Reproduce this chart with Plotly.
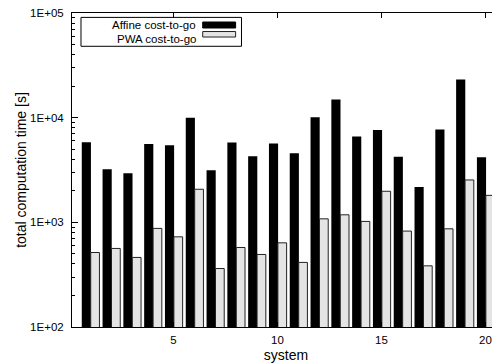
import plotly.graph_objects as go

systems = list(range(1, 21))
affine_cost = [5820, 3210, 2940, 5610, 5450, 9960, 3140, 5780, 4280, 5650,
               4570, 10100, 14900, 6590, 7640, 4240, 2180, 7690, 23200, 4190]
pwa_cost = [515, 563, 462, 875, 727, 2070, 362, 575, 493, 637,
            414, 1080, 1180, 1020, 1980, 825, 384, 867, 2540, 1810]
y_tickvals = [1e2, 1e3, 1e4, 1e5]
y_ticktext = ["1E+02", "1E+03", "1E+04", "1E+05"]
x_tickvals = [5, 10, 15, 20]
series_names = ["Affine cost-to-go", "PWA cost-to-go"]

BLACK = "#000000"
GRAY = "#e4e4e4"
FONT = "Liberation Sans, Arial, sans-serif"
FS = 11.5

fig = go.Figure()
fig.add_trace(go.Bar(x=systems, y=affine_cost, name=series_names[0],
                     marker=dict(color=BLACK, line=dict(width=0)),
                     offset=-0.41, width=0.44, showlegend=False))
fig.add_trace(go.Bar(x=systems, y=pwa_cost, name=series_names[1],
                     marker=dict(color=GRAY, line=dict(color="#222222", width=1)),
                     offset=0.02, width=0.42, showlegend=False))

minor_vals = [m * 10 ** e for e in (2, 3, 4) for m in range(2, 10)]

# page body has an 8px default margin, so the figure is offset by 8px
fig.update_layout(
    width=492, height=355,
    margin=dict(l=64, r=0, t=5, b=36),
    paper_bgcolor="white", plot_bgcolor="white",
    font=dict(family=FONT, size=FS, color="#000000"),
    barmode="overlay",
    xaxis=dict(range=[0.12, 20.7], tickmode="array", tickvals=x_tickvals,
               ticks="inside", ticklen=5, tickcolor="#000", showline=True,
               linecolor="#000", linewidth=1, mirror="ticks", showgrid=False,
               zeroline=False, title=dict(text="system", standoff=6),
               tickfont=dict(size=FS), ticklabelstandoff=2,
               ticklabeloverflow="allow"),
    yaxis=dict(type="log", range=[2, 5], tickmode="array", tickvals=y_tickvals,
               ticktext=y_ticktext, ticks="inside", ticklen=6, tickcolor="#000",
               showline=True, linecolor="#000", linewidth=1, mirror="ticks",
               showgrid=False, zeroline=False,
               minor=dict(tickmode="array", tickvals=minor_vals, ticks="inside",
                          ticklen=3, tickcolor="#000", showgrid=False),
               title=dict(text="total computation time [s]", standoff=0),
               tickfont=dict(size=FS), ticklabelstandoff=5,
               ticklabeloverflow="allow"),
)

# gnuplot-style key: text right-aligned, swatch to the right
fig.add_shape(type="rect", xref="paper", yref="paper",
              x0=0.021, x1=0.396, y0=0.894, y1=0.986,
              line=dict(color="#000", width=1), fillcolor="white", layer="above")
rows = [(0.9617, 0.9713, 0.9522, BLACK, None),
        (0.9159, 0.9410, 0.9235, GRAY, "#222222")]
for name, (yc, sy1, sy0, col, lc) in zip(series_names, rows):
    fig.add_shape(type="rect", xref="paper", yref="paper",
                  x0=0.3054, x1=0.3823, y0=sy0, y1=sy1,
                  fillcolor=col, line=dict(color=lc if lc else col, width=1),
                  layer="above")
    fig.add_annotation(xref="paper", yref="paper", x=0.2937, y=yc,
                       text=name, showarrow=False, xanchor="right",
                       yanchor="middle", font=dict(size=FS))

fig.write_html("out.html")
